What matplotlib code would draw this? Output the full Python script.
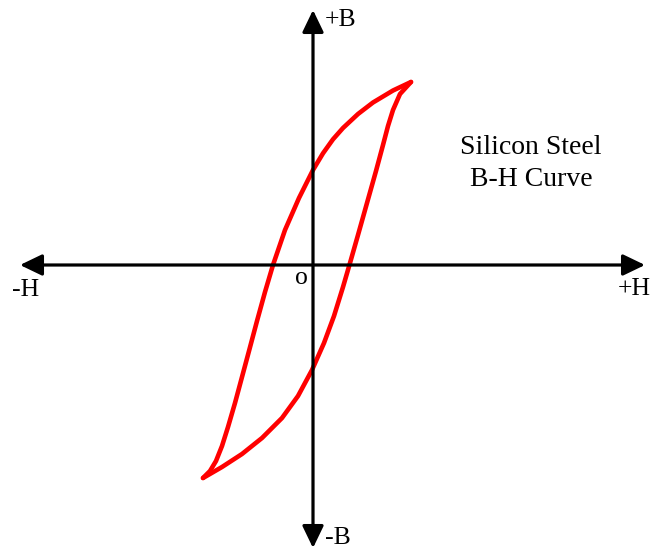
import matplotlib
matplotlib.use("Agg")
import matplotlib.pyplot as plt

# Descending branch (from positive tip to negative tip)
H_desc = [0.98, 0.80, 0.60, 0.45, 0.30, 0.20, 0.10, 0.00, -0.14, -0.28, -0.40, -0.48, -0.56,
          -0.64, -0.71, -0.78, -0.85, -0.91, -0.97, -1.03, -1.10]
B_desc = [1.83, 1.745, 1.625, 1.51, 1.37, 1.257, 1.117, 0.95, 0.67, 0.35, 0.00, -0.27, -0.56,
          -0.86, -1.12, -1.38, -1.62, -1.81, -1.96, -2.06, -2.13]

# Ascending branch (from negative tip to positive tip)
H_asc = [-1.10, -0.91, -0.71, -0.51, -0.31, -0.15, -0.01, 0.11, 0.21, 0.30, 0.37,
         0.45, 0.54, 0.63, 0.70, 0.75, 0.80, 0.87, 0.98]
B_asc = [-2.13, -2.02, -1.89, -1.73, -1.53, -1.31, -1.05, -0.78, -0.51, -0.22, 0.02,
         0.30, 0.62, 0.94, 1.20, 1.39, 1.55, 1.71, 1.83]

title_lines = ["Silicon Steel", "B-H Curve"]
axis_labels = {"+B": "+B", "-B": "-B", "+H": "+H", "-H": "-H", "o": "o"}

plt.rcParams['font.family'] = ['Liberation Serif', 'DejaVu Serif']

fig = plt.figure(figsize=(6.52, 5.50), dpi=100)
ax = fig.add_axes([0, 0, 1, 1])
ax.set_xlim(-3.13, 3.39)
ax.set_ylim(-2.85, 2.65)
ax.axis('off')

arrow_kw = dict(arrowstyle='<|-|>,head_length=1.35,head_width=0.65',
                color='black', lw=2.3, shrinkA=0, shrinkB=0, mutation_scale=10)
ax.annotate('', xy=(-2.93, 0.0), xytext=(3.32, 0.0), arrowprops=arrow_kw)
ax.annotate('', xy=(0.0, 2.55), xytext=(0.0, -2.83), arrowprops=arrow_kw)

line_kw = dict(color='#ff0000', lw=3.3, solid_joinstyle='round', solid_capstyle='round')
ax.plot(H_desc, B_desc, **line_kw)
ax.plot(H_asc, B_asc, **line_kw)

fs = 18.5
ax.text(0.12, 2.45, axis_labels["+B"], fontsize=fs, ha='left', va='center')
ax.text(0.12, -2.73, axis_labels["-B"], fontsize=fs, ha='left', va='center')
ax.text(-3.01, -0.25, axis_labels["-H"], fontsize=fs, ha='left', va='center')
ax.text(3.38, -0.24, axis_labels["+H"], fontsize=fs, ha='right', va='center')
ax.text(-0.12, -0.13, axis_labels["o"], fontsize=fs, ha='center', va='center')

ax.text(2.18, 1.17, title_lines[0], fontsize=20, ha='center', va='center')
ax.text(2.18, 0.85, title_lines[1], fontsize=20, ha='center', va='center')

fig.savefig('out.png', dpi=100)
